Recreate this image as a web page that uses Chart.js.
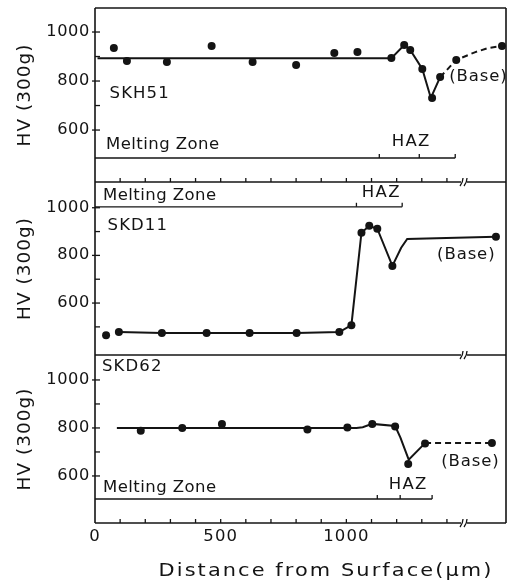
<!DOCTYPE html>
<html>
<head>
<meta charset="utf-8">
<script src="https://cdn.jsdelivr.net/npm/chart.js@4.4.1/dist/chart.umd.min.js"></script>
<style>
  html, body { margin: 0; padding: 0; background: #fff; }
  canvas { display: block; }
</style>
</head>
<body>
<canvas id="chart" width="510" height="583"></canvas>
<script>
// Hardness profiles, distance from surface (um) vs HV (300g)
// SKH51 - measured points and the drawn trend line
const skh51Dist = [75, 127, 286, 464, 627, 800, 952, 1044, 1179, 1230, 1254, 1302, 1341, 1373, 1437, 1619]
const skh51Hv   = [935, 882, 878, 943, 878, 865, 914, 918, 894, 947, 927, 849, 731, 816, 886, 943]
const skh51LineDist = [10, 1179, 1230, 1254, 1302, 1336, 1373, 1437, 1513, 1565, 1619]
const skh51LineHv   = [893, 893, 947, 927, 849, 731, 816, 886, 918, 935, 943]
const skh51DashFrom = 6

// SKD11
const skd11Dist = [44, 95, 266, 444, 615, 802, 972, 1020, 1060, 1091, 1123, 1183, 1595]
const skd11Hv   = [465, 478, 474, 474, 474, 474, 478, 507, 895, 924, 912, 756, 878]
const skd11LineDist = [95, 266, 444, 615, 802, 972, 1020, 1060, 1091, 1123, 1183, 1218, 1242, 1595]
const skd11LineHv   = [478, 474, 474, 474, 474, 478, 507, 895, 924, 912, 756, 832, 869, 878]

// SKD62
const skd62Dist = [182, 347, 505, 845, 1004, 1103, 1194, 1246, 1313, 1579]
const skd62Hv   = [788, 800, 817, 794, 802, 817, 806, 650, 735, 737]
const skd62LineDist = [87, 1040, 1065, 1103, 1194, 1215, 1248, 1313, 1579]
const skd62LineHv   = [800, 800, 803, 817, 808, 760, 668, 737, 737]
const skd62DashFrom = 7

// axis ticks
const xTicks = [100, 200, 300, 400, 500, 600, 700, 800, 900, 1000, 1100, 1200, 1300, 1400]
const xTickLabels = [0, 500, 1000]
const yTickLabels = [600, 800, 1000]
const yMinorTop = [700, 900]
const yMinorMid = [500, 700, 900]
const yMinorBot = [700, 900]

const ink = '#141414'
const face = '"DejaVu Sans", sans-serif'

function pts(xs, ys) {
  return xs.map((x, i) => ({ x: x, y: ys[i] }))
}

function dashAfter(from) {
  return { borderDash: ctx => ctx.p0DataIndex >= from ? [6, 4] : undefined }
}

// text is a bit wide in the original print, so stretch it sideways
function text(ctx, s, x, y, size, align, spacing, sx) {
  ctx.save()
  ctx.translate(x, y)
  ctx.scale(sx || 1, 1)
  ctx.font = size + 'px ' + face
  ctx.letterSpacing = spacing + 'px'
  ctx.textAlign = align
  ctx.textBaseline = 'middle'
  ctx.fillStyle = ink
  ctx.fillText(s, 0, 0)
  ctx.restore()
}

function line(ctx, x1, y1, x2, y2, w) {
  ctx.beginPath()
  ctx.lineWidth = w
  ctx.moveTo(x1, y1)
  ctx.lineTo(x2, y2)
  ctx.stroke()
}

// per-panel decorations, placed in data units
const panels = {
  yTop: {
    name: 'SKH51', nameAt: [58, 747],
    base: [1409, 816],
    zone: { v: 486, ticks: [1131, 1290, 1433], mz: [44, 537], haz: [1258, 549] },
    minor: yMinorTop
  },
  yMid: {
    name: 'SKD11', nameAt: [50, 922],
    base: [1361, 802],
    zone: { v: 1004, ticks: [1040, 1222], mz: [32, 1048], haz: [1139, 1061] },
    minor: yMinorMid
  },
  yBot: {
    name: 'SKD62', nameAt: [28, 1054],
    base: [1377, 658],
    zone: { v: 504, ticks: [1123, 1214, 1341], mz: [32, 550], haz: [1246, 563] },
    minor: yMinorBot
  }
}

const decor = {
  id: 'decor',
  afterDraw(chart) {
    const ctx = chart.ctx
    const xs = chart.scales.x
    const area = chart.chartArea
    ctx.save()
    ctx.strokeStyle = ink
    ctx.lineCap = 'butt'

    // outer frame
    line(ctx, area.left, area.top, area.left, area.bottom, 1.6)
    line(ctx, area.right, area.top, area.right, area.bottom, 1.6)
    line(ctx, area.left, area.top, area.right, area.top, 1.4)

    Object.keys(panels).forEach(id => {
      const ys = chart.scales[id]
      const p = panels[id]
      const bottom = ys.bottom

      // panel bottom line
      line(ctx, area.left, bottom, area.right, bottom, 1.6)

      // y ticks pointing inwards
      yTickLabels.forEach(v => {
        const y = ys.getPixelForValue(v)
        line(ctx, area.left - 3, y, area.left + 5, y, 1.3)
        text(ctx, String(v), area.left - 5, y, 15, 'right', 0.6, 1.08)
      })
      p.minor.forEach(v => {
        const y = ys.getPixelForValue(v)
        line(ctx, area.left, y, area.left + 5, y, 1.3)
      })

      // axis title
      ctx.save()
      ctx.translate(26, (ys.top + ys.bottom) / 2)
      ctx.rotate(-Math.PI / 2)
      text(ctx, 'HV (300g)', 0, 0, 17, 'center', 1, 1.08)
      ctx.restore()

      // alloy name and base label
      text(ctx, p.name, xs.getPixelForValue(p.nameAt[0]), ys.getPixelForValue(p.nameAt[1]), 15, 'left', 1, 1.1)
      text(ctx, '(Base)', xs.getPixelForValue(p.base[0]), ys.getPixelForValue(p.base[1]), 15, 'left', 0.8, 1.1)

      // melting zone / HAZ bracket
      const z = p.zone
      const zy = ys.getPixelForValue(z.v)
      const zEnd = z.ticks[z.ticks.length - 1]
      line(ctx, area.left, zy, xs.getPixelForValue(zEnd), zy, 1.3)
      z.ticks.forEach(t => {
        const x = xs.getPixelForValue(t)
        line(ctx, x, zy, x, zy - 4, 1.3)
      })
      text(ctx, 'Melting Zone', xs.getPixelForValue(z.mz[0]), ys.getPixelForValue(z.mz[1]), 15, 'left', 0.4, 1.1)
      text(ctx, 'HAZ', xs.getPixelForValue(z.haz[0]), ys.getPixelForValue(z.haz[1]), 15, 'center', 1.2, 1.1)

      // axis break mark
      const bx = xs.getPixelForValue(1468)
      ctx.fillStyle = '#fff'
      ctx.fillRect(bx - 3, bottom - 2, 6, 4)
      ;[-2, 2].forEach(dx => {
        ctx.beginPath()
        ctx.lineWidth = 1.3
        ctx.moveTo(bx + dx - 2, bottom + 4)
        ctx.quadraticCurveTo(bx + dx + 1, bottom, bx + dx + 1, bottom - 4)
        ctx.stroke()
      })
    })

    // inward x ticks on the top panel base line and the bottom axis
    ;[chart.scales.yTop.bottom, chart.scales.yBot.bottom].forEach(by => {
      xTicks.forEach(t => {
        const x = xs.getPixelForValue(t)
        line(ctx, x, by, x, by - 4, 1.3)
      })
    })

    // x tick labels and title
    xTickLabels.forEach(v => {
      text(ctx, String(v), xs.getPixelForValue(v), area.bottom + 14, 15, 'center', 1, 1.1)
    })
    text(ctx, 'Distance from Surface(\u03bcm)', xs.getPixelForValue(919), area.bottom + 48, 18, 'center', 1.8, 1.16)

    ctx.restore()
  }
}

function yScale(min, max, weight) {
  return {
    type: 'linear', position: 'left', stack: 'hv', stackWeight: weight,
    min: min, max: max,
    ticks: { display: false },
    grid: { display: false, drawTicks: false },
    border: { display: false },
    afterFit: s => { s.width = 95 }
  }
}

const dot = { type: 'scatter', showLine: false, pointRadius: 4, pointHoverRadius: 4,
  backgroundColor: ink, borderColor: ink, borderWidth: 0 }
const trend = { type: 'line', pointRadius: 0, borderWidth: 2, borderColor: ink, fill: false, tension: 0 }

new Chart(document.getElementById('chart'), {
  type: 'scatter',
  data: {
    datasets: [
      Object.assign({}, dot, { data: pts(skh51Dist, skh51Hv), yAxisID: 'yTop' }),
      Object.assign({}, dot, { data: pts(skd11Dist, skd11Hv), yAxisID: 'yMid' }),
      Object.assign({}, dot, { data: pts(skd62Dist, skd62Hv), yAxisID: 'yBot' }),
      Object.assign({}, trend, { data: pts(skh51LineDist, skh51LineHv), yAxisID: 'yTop', segment: dashAfter(skh51DashFrom) }),
      Object.assign({}, trend, { data: pts(skd11LineDist, skd11LineHv), yAxisID: 'yMid' }),
      Object.assign({}, trend, { data: pts(skd62LineDist, skd62LineHv), yAxisID: 'yBot', segment: dashAfter(skd62DashFrom) })
    ]
  },
  options: {
    responsive: false,
    animation: false,
    devicePixelRatio: 1,
    layout: { padding: { left: 0, right: 2, top: 8, bottom: 0 } },
    plugins: { legend: { display: false }, tooltip: { enabled: false } },
    scales: {
      x: {
        type: 'linear', min: 0, max: 1635,
        ticks: { display: false },
        grid: { display: false, drawTicks: false },
        border: { display: false },
        afterFit: s => { s.height = 60 }
      },
      yBot: yScale(404, 1104, 168),
      yMid: yScale(382, 1108, 173),
      yTop: yScale(388, 1098, 174)
    }
  },
  plugins: [decor]
})
</script>
</body>
</html>
